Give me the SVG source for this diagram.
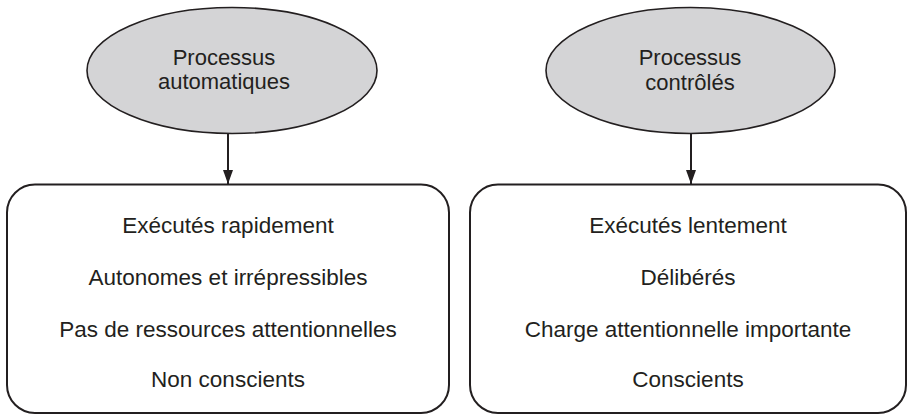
<svg xmlns="http://www.w3.org/2000/svg" width="908" height="415" viewBox="0 0 908 415">
<defs>
<style>
.ell{fill:#d4d4d6;stroke:#231f20;stroke-width:1.6}
.box{fill:#ffffff;stroke:#231f20;stroke-width:2}
.t{font-family:"Liberation Sans",Arial,sans-serif;font-size:22px;fill:#231f20;text-anchor:middle}
.tb{font-size:22.5px}
.con{stroke:#231f20;stroke-width:2;fill:none}
</style>
<marker id="ah" viewBox="0 0 14 10" refX="14" refY="5" markerWidth="7" markerHeight="5" markerUnits="strokeWidth" orient="auto">
<path d="M0,0 L14,5 L0,10 Z" fill="#231f20"/>
</marker>
</defs>
<rect width="908" height="415" fill="#ffffff"/>
<g id="auto-ellipse">
<ellipse class="ell" cx="232" cy="70.5" rx="145" ry="63"/>
<text class="t" x="224" y="65">Processus</text>
<text class="t" x="224" y="89">automatiques</text>
</g>
<g id="ctrl-ellipse">
<ellipse class="ell" cx="690.5" cy="70.5" rx="144.5" ry="63"/>
<text class="t" x="690" y="65">Processus</text>
<text class="t" x="690" y="90">contrôlés</text>
</g>
<g id="auto-box">
<rect class="box" x="7" y="184.5" width="442" height="228.5" rx="28" ry="28"/>
<text class="t tb" x="228" y="233">Exécutés rapidement</text>
<text class="t tb" x="228" y="285">Autonomes et irrépressibles</text>
<text class="t tb" x="228" y="337">Pas de ressources attentionnelles</text>
<text class="t tb" x="228" y="387">Non conscients</text>
</g>
<g id="ctrl-box">
<rect class="box" x="470" y="184.5" width="436" height="228.5" rx="28" ry="28"/>
<text class="t tb" x="688" y="233">Exécutés lentement</text>
<text class="t tb" x="688" y="285">Délibérés</text>
<text class="t tb" x="688" y="337">Charge attentionnelle importante</text>
<text class="t tb" x="688" y="387">Conscients</text>
</g>
<g id="connectors">
<line class="con" x1="228" y1="133.5" x2="228" y2="184" marker-end="url(#ah)"/>
<line class="con" x1="691" y1="133.5" x2="691" y2="184" marker-end="url(#ah)"/>
</g>
</svg>
